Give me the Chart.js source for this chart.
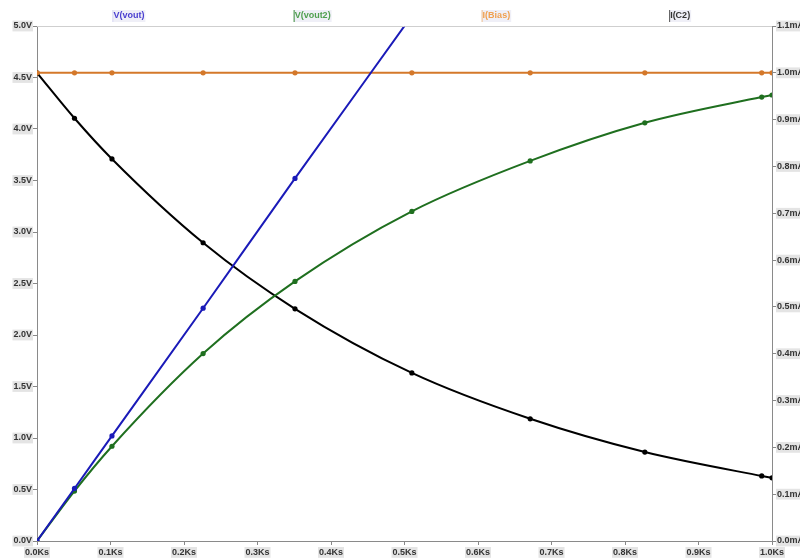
<!DOCTYPE html>
<html>
<head>
<meta charset="utf-8">
<script src="https://cdn.jsdelivr.net/npm/chart.js@4/dist/chart.umd.min.js"></script>
<style>
  html, body { margin: 0; padding: 0; background: #ffffff; }
  #wrap { width: 800px; height: 558px; }
</style>
</head>
<body>
<div id="wrap"><canvas id="plot" width="800" height="558"></canvas></div>
<script>
// Transient simulation samples (time in seconds)
const timeS   = [0, 51, 102, 226, 351, 510, 671, 827, 986, 1000];
const vOut    = [0, 0.51, 1.02, 2.26, 3.52, 5.10, 6.71, 8.27, 9.86, 10.0];
const vOut2   = [0, 0.485, 0.92, 1.82, 2.52, 3.20, 3.69, 4.06, 4.31, 4.33];
const iBias   = [1.0, 1.0, 1.0, 1.0, 1.0, 1.0, 1.0, 1.0, 1.0, 1.0];   // mA
const iC2     = [1.0, 0.903, 0.816, 0.637, 0.496, 0.359, 0.261, 0.190, 0.139, 0.135]; // mA

const traceNames = ['V(vout)', 'V(vout2)', 'I(Bias)', 'I(C2)'];
const voltTicks = { min: 0, max: 5.0, step: 0.5 };
const ampTicks  = { min: 0, max: 1.1, step: 0.1 };
const timeTicks = { min: 0, max: 1000, step: 100 };

const pts = ys => timeS.map((t, i) => ({ x: t, y: ys[i] }));

const FONT = { family: '"Liberation Sans", Arial, sans-serif', size: 9, weight: 'bold' };

function trace(label, ys, color, axis) {
  return {
    label, data: pts(ys), yAxisID: axis,
    borderColor: color, backgroundColor: color,
    borderWidth: 2, pointRadius: 2.6, pointHoverRadius: 2.6,
    pointBorderWidth: 0, cubicInterpolationMode: 'monotone', fill: false
  };
}

// Trace names above the plot, in each trace's colour
const traceLabels = {
  id: 'traceLabels',
  afterDraw(chart) {
    const { ctx, chartArea: a } = chart;
    ctx.save();
    // top frame line
    ctx.strokeStyle = '#cfcfcf';
    ctx.lineWidth = 1;
    ctx.beginPath();
    ctx.moveTo(a.left, a.top + 0.5);
    ctx.lineTo(a.right, a.top + 0.5);
    ctx.stroke();

    const colors = ['#4a3fd0', '#4f9f4f', '#f0a050', '#333333'];
    const bars = ['#d8d8f4', '#3c8c3c', '#f0c090', '#555555'];
    ctx.font = 'bold 9px "Liberation Sans", Arial, sans-serif';
    ctx.textBaseline = 'middle';
    ctx.textAlign = 'center';
    const w = a.right - a.left;
    chart.data.datasets.forEach((ds, k) => {
      const cx = a.left + w * (k + 0.5) / 4;
      const tw = ctx.measureText(ds.label).width;
      ctx.fillStyle = 'rgba(235,235,245,0.8)';
      ctx.fillRect(cx - tw / 2 - 1, 10, tw + 2, 12);
      ctx.fillStyle = bars[k];
      ctx.fillRect(cx - tw / 2 - 1, 10, 1, 12);
      ctx.fillStyle = colors[k];
      ctx.fillText(ds.label, cx, 16);
    });
    ctx.restore();
  }
};

new Chart(document.getElementById('plot'), {
  type: 'line',
  data: {
    datasets: [
      trace(traceNames[0], vOut,  '#1a1ab8', 'yV'),
      trace(traceNames[1], vOut2, '#1f6f1f', 'yV'),
      trace(traceNames[2], iBias, '#d4782a', 'yA'),
      trace(traceNames[3], iC2,   '#000000', 'yA')
    ]
  },
  options: {
    responsive: false,
    animation: false,
    events: [],
    layout: { padding: { top: 26, left: 0, right: 0, bottom: 0 } },
    plugins: { legend: { display: false }, tooltip: { enabled: false } },
    scales: {
      x: {
        type: 'linear', position: 'bottom',
        min: timeTicks.min, max: timeTicks.max,
        afterFit(s) { s.height = 17; },
        grid: { drawOnChartArea: false, drawTicks: true, tickLength: 4, color: '#888888' },
        border: { display: true, color: '#8a8a8a', width: 1 },
        ticks: {
          stepSize: timeTicks.step, font: FONT, color: '#333333', padding: 2,
          maxRotation: 0, autoSkip: false,
          showLabelBackdrop: true, backdropColor: '#e4e4e4', backdropPadding: { top: 0, bottom: 0, left: 1, right: 1 },
          callback: v => (v / 1000).toFixed(1) + 'Ks'
        }
      },
      yV: {
        type: 'linear', position: 'left',
        min: voltTicks.min, max: voltTicks.max,
        afterFit(s) { s.width = 37; },
        grid: { drawOnChartArea: false, drawTicks: true, tickLength: 4, color: '#888888' },
        border: { display: true, color: '#8a8a8a', width: 1 },
        ticks: {
          stepSize: voltTicks.step, font: FONT, color: '#333333', padding: 1,
          showLabelBackdrop: true, backdropColor: '#e4e4e4', backdropPadding: { top: 0, bottom: 0, left: 1, right: 1 },
          callback: v => v.toFixed(1) + 'V'
        }
      },
      yA: {
        type: 'linear', position: 'right',
        min: ampTicks.min, max: ampTicks.max,
        afterFit(s) { s.width = 28; },
        grid: { drawOnChartArea: false, drawTicks: true, tickLength: 4, color: '#888888' },
        border: { display: true, color: '#8a8a8a', width: 1 },
        ticks: {
          stepSize: ampTicks.step, font: FONT, color: '#333333', padding: 1,
          showLabelBackdrop: true, backdropColor: '#e4e4e4', backdropPadding: { top: 0, bottom: 0, left: 1, right: 1 },
          callback: v => v.toFixed(1) + 'mA'
        }
      }
    }
  },
  plugins: [traceLabels]
});
</script>
</body>
</html>
